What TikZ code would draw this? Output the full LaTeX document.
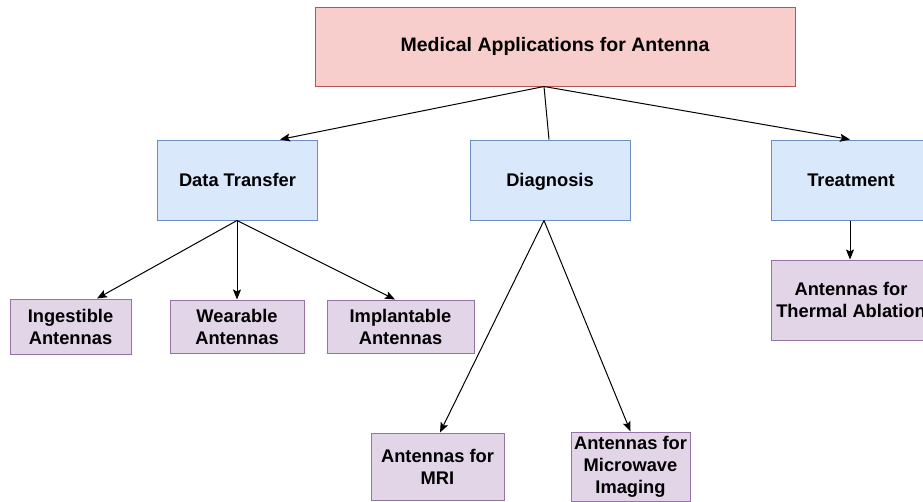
\documentclass[tikz,border=0pt]{standalone}
\usepackage{fontspec}
\setmainfont{Liberation Sans}
\usetikzlibrary{calc,arrows.meta}
\definecolor{rootfill}{HTML}{F8CECC}
\definecolor{rootline}{HTML}{B85450}
\definecolor{areafill}{HTML}{DAE8FC}
\definecolor{arealine}{HTML}{6C8EBF}
\definecolor{usefill}{HTML}{E1D5E7}
\definecolor{useline}{HTML}{9673A6}

\begin{document}
\begin{tikzpicture}[x=1pt,y=-1pt,font=\bfseries\fontsize{18.3}{22}\selectfont]
    \tikzstyle{root box}=[draw=rootline,fill=rootfill,line width=1pt,inner sep=0,minimum width=480,minimum height=79,font=\bfseries\fontsize{19.5}{23}\selectfont]
    \tikzstyle{area box}=[draw=arealine,fill=areafill,line width=1pt,inner sep=0,minimum width=160,minimum height=80,text height=15pt,text depth=2pt]
    \tikzstyle{use box}=[draw=useline,fill=usefill,line width=1pt,inner sep=0,align=center]
    \tikzstyle{link}=[line width=1pt]
    \tikzstyle{arrow}=[line width=1pt,-{Stealth[length=10pt,width=8pt,inset=2pt]}]

    \useasboundingbox (0,0) rectangle (923,501);
    \clip (0,0) rectangle (923,501);

    \node(root)[root box] at (555,46.5) {Medical Applications for Antenna};

    \node(dt)[area box] at (237.5,180) {Data Transfer};
    \node(diag)[area box] at (550,180) {Diagnosis};
    \node(treat)[area box] at (851,180) {Treatment};

    \node(ing)[use box,minimum width=121,minimum height=55] at (70.5,326.5) {Ingestible\\Antennas};
    \node(wear)[use box,minimum width=134,minimum height=53] at (237,326.5) {Wearable\\Antennas};
    \node(impl)[use box,minimum width=147,minimum height=53] at (400.5,326.5) {Implantable\\Antennas};
    \node(mri)[use box,minimum width=133,minimum height=67] at (437.5,466.5) {Antennas for\\MRI};
    \node(micro)[use box,minimum width=119,minimum height=69] at (630.5,466.5) {Antennas for\\Microwave\\Imaging};
    \node(therm)[use box,minimum width=160,minimum height=80] at (851,300) {Antennas for\\Thermal Ablation};

    % top level
    \draw[arrow] ($(root.south)+(-11,0)$) -- ($(dt.north)+(42.5,0)$);
    \draw[link] ($(root.south)+(-11,0)$) -- ($(diag.north)+(-1,0)$);
    \draw[arrow] ($(root.south)+(-11,0)$) -- ($(treat.north)+(-1,0)$);

    % data transfer
    \draw[arrow] ($(dt.south)+(-0.5,0)$) -- ($(ing.north)+(26.5,0)$);
    \draw[arrow] ($(dt.south)+(-0.5,0)$) -- (wear.north);
    \draw[arrow] ($(dt.south)+(-0.5,0)$) -- ($(impl.north)+(-5.5,0)$);

    % diagnosis
    \draw[arrow] ($(diag.south)+(-6,0)$) -- ($(mri.north)+(2.5,0)$);
    \draw[arrow] ($(diag.south)+(-6,0)$) -- (micro.north);

    % treatment
    \draw[arrow] ($(treat.south)+(-1,0)$) -- ($(therm.north)+(-1,0)$);
\end{tikzpicture}
\end{document}
